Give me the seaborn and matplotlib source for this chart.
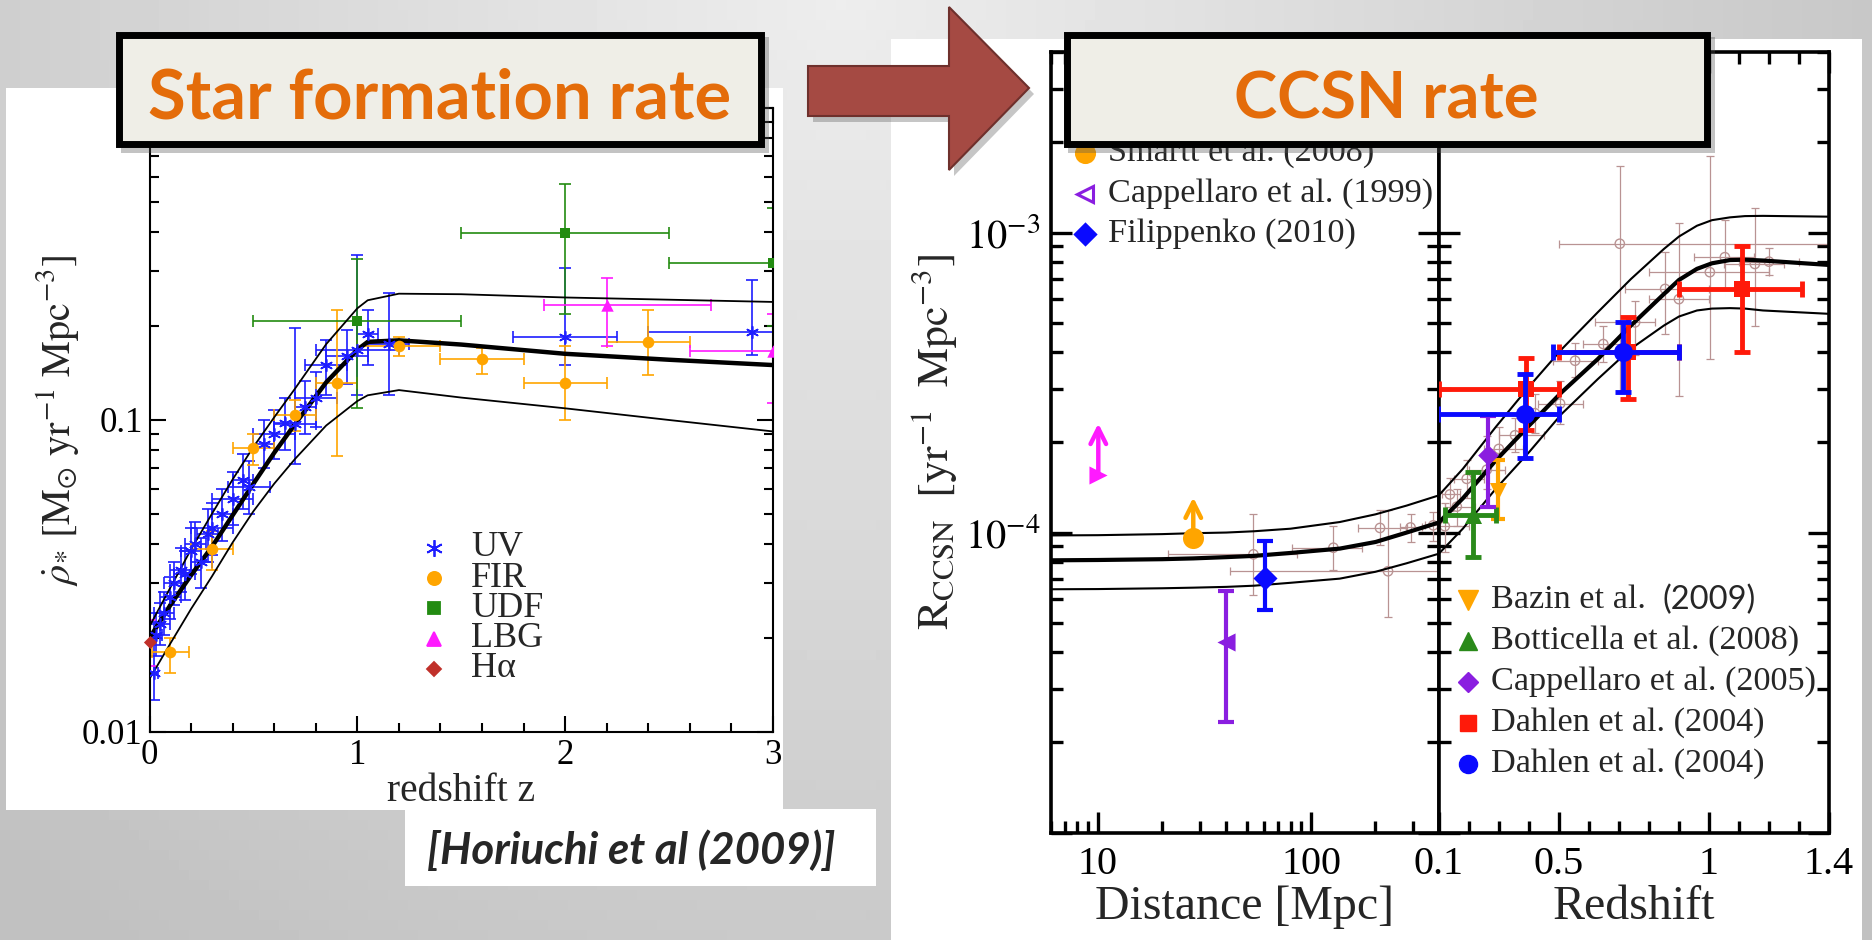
import numpy as np
import pandas as pd
import matplotlib
matplotlib.use("Agg")
import matplotlib.pyplot as plt
import seaborn as sns
from matplotlib.patches import Rectangle, Polygon
from matplotlib.lines import Line2D
from matplotlib.ticker import FixedLocator, FixedFormatter, MultipleLocator, LogLocator, NullFormatter

# ======================= LEFT PANEL : star formation rate =======================
sfr_z   = [0.0, 0.1, 0.2, 0.3, 0.4, 0.5, 0.6, 0.7, 0.85, 1.0, 1.05, 1.2, 1.5, 2.0, 2.5, 3.0]
sfr_mid = [0.0200, 0.0255, 0.0318, 0.0392, 0.0495, 0.0625, 0.0785, 0.0970, 0.1320, 0.1680, 0.1780, 0.1800, 0.1745, 0.1630, 0.1560, 0.1500]
sfr_up  = [0.0218, 0.0290, 0.0385, 0.0500, 0.0645, 0.0820, 0.1020, 0.1260, 0.1750, 0.2280, 0.2420, 0.2540, 0.2530, 0.2470, 0.2430, 0.2390]
sfr_low = [0.0148, 0.0192, 0.0248, 0.0315, 0.0405, 0.0510, 0.0625, 0.0750, 0.0960, 0.1150, 0.1200, 0.1247, 0.1180, 0.1090, 0.1000, 0.0919]

uv_z    = [0.02, 0.03, 0.05, 0.07, 0.10, 0.12, 0.15, 0.17, 0.20, 0.22, 0.25, 0.28, 0.30, 0.35, 0.40, 0.45, 0.48, 0.55, 0.60, 0.65, 0.70, 0.75, 0.80, 0.85, 0.95, 1.00, 1.05, 1.15, 2.00, 2.90]
uv_dzlo = [0.02, 0.03, 0.05, 0.05, 0.05, 0.05, 0.05, 0.05, 0.05, 0.05, 0.05, 0.05, 0.10, 0.05, 0.10, 0.05, 0.10, 0.05, 0.10, 0.05, 0.10, 0.05, 0.10, 0.10, 0.10, 0.20, 0.05, 0.10, 0.25, 0.50]
uv_dzhi = [0.02, 0.03, 0.05, 0.05, 0.05, 0.05, 0.05, 0.05, 0.05, 0.05, 0.05, 0.05, 0.10, 0.05, 0.10, 0.05, 0.10, 0.05, 0.10, 0.05, 0.10, 0.05, 0.10, 0.10, 0.10, 0.20, 0.05, 0.10, 0.25, 0.20]
uv_rho  = [0.0155, 0.0205, 0.0222, 0.0240, 0.0270, 0.0300, 0.0330, 0.0320, 0.0380, 0.0400, 0.0350, 0.0430, 0.0450, 0.0500, 0.0560, 0.0640, 0.0610, 0.0840, 0.0900, 0.0980, 0.0970, 0.1100, 0.1180, 0.1500, 0.1600, 0.1680, 0.1890, 0.1750, 0.1840, 0.1920]
uv_lo   = [0.0127, 0.0175, 0.0190, 0.0205, 0.0230, 0.0255, 0.0280, 0.0265, 0.0320, 0.0330, 0.0290, 0.0350, 0.0370, 0.0410, 0.0460, 0.0520, 0.0500, 0.0700, 0.0750, 0.0800, 0.0725, 0.0900, 0.0950, 0.1200, 0.1300, 0.1200, 0.1500, 0.1200, 0.1500, 0.1620]
uv_hi   = [0.0225, 0.0240, 0.0260, 0.0280, 0.0315, 0.0350, 0.0390, 0.0380, 0.0450, 0.0470, 0.0420, 0.0520, 0.0540, 0.0600, 0.0680, 0.0780, 0.0740, 0.1000, 0.1080, 0.1180, 0.1970, 0.1330, 0.1420, 0.1800, 0.1950, 0.3390, 0.2250, 0.2550, 0.3060, 0.2810]

fir_z   = [0.1, 0.3, 0.5, 0.7, 0.9, 1.2, 1.6, 2.0, 2.4]
fir_dz  = [0.09, 0.1, 0.1, 0.1, 0.1, 0.2, 0.2, 0.2, 0.2]
fir_rho = [0.0181, 0.0385, 0.0816, 0.104, 0.131, 0.173, 0.157, 0.131, 0.178]
fir_lo  = [0.0155, 0.0330, 0.0720, 0.092, 0.0768, 0.160, 0.140, 0.100, 0.139]
fir_hi  = [0.0200, 0.0440, 0.0900, 0.116, 0.225, 0.185, 0.170, 0.173, 0.225]

udf_z   = [1.0, 2.0, 3.0]
udf_dz  = [0.5, 0.5, 0.5]
udf_rho = [0.207, 0.397, 0.318]
udf_lo  = [0.109, 0.218, 0.200]
udf_hi  = [0.327, 0.572, 0.477]

lbg_z    = [2.2, 3.0]
lbg_dzlo = [0.3, 0.4]
lbg_dzhi = [0.5, 0.4]
lbg_rho  = [0.233, 0.166]
lbg_lo   = [0.173, 0.113]
lbg_hi   = [0.286, 0.218]

ha_z   = [0.0]
ha_rho = [0.0194]
ha_lo  = [0.0163]
ha_hi  = [0.0228]

sfr_legend = ["UV", "FIR", "UDF", "LBG", "H\u03b1"]

# ======================= RIGHT PANEL : CCSN rate =======================
d_grid = [6, 10, 20, 28, 40, 54, 80, 136, 200, 280, 396]
d_mid  = [8.08e-5, 8.10e-5, 8.15e-5, 8.20e-5, 8.28e-5, 8.36e-5, 8.55e-5, 8.84e-5, 9.30e-5, 1.00e-4, 1.08e-4]
d_up   = [9.78e-5, 9.80e-5, 9.88e-5, 9.95e-5, 1.00e-4, 1.01e-4, 1.03e-4, 1.084e-4, 1.15e-4, 1.23e-4, 1.33e-4]
d_low  = [6.47e-5, 6.48e-5, 6.52e-5, 6.55e-5, 6.59e-5, 6.65e-5, 6.80e-5, 7.02e-5, 7.40e-5, 7.90e-5, 8.50e-5]

zr_grid = [0.10, 0.18, 0.29, 0.40, 0.51, 0.63, 0.74, 0.85, 0.90, 0.96, 1.01, 1.07, 1.12, 1.18, 1.40]
zr_mid  = [1.08e-4, 1.30e-4, 1.74e-4, 2.27e-4, 2.94e-4, 3.79e-4, 4.90e-4, 6.24e-4, 6.95e-4, 7.57e-4, 7.90e-4, 8.10e-4, 8.12e-4, 8.07e-4, 7.80e-4]
zr_up   = [1.33e-4, 1.63e-4, 2.25e-4, 3.06e-4, 4.09e-4, 5.43e-4, 7.00e-4, 8.82e-4, 9.70e-4, 1.054e-3, 1.10e-3, 1.124e-3, 1.135e-3, 1.137e-3, 1.13e-3]
zr_low  = [8.5e-5, 1.03e-4, 1.40e-4, 1.85e-4, 2.49e-4, 3.25e-4, 4.10e-4, 4.90e-4, 5.25e-4, 5.50e-4, 5.58e-4, 5.60e-4, 5.58e-4, 5.50e-4, 5.36e-4]

# compilation points (light brown) - distance side
cd_d   = [53.6, 127, 210, 292, 373, 229]
cd_dlo = [21.4, 81.5, 165, 260, 340, 41.6]
cd_dhi = [85.5, 172, 280, 330, 400, 500]
cd_r   = [8.46e-5, 8.9e-5, 1.036e-4, 1.04e-4, 1.057e-4, 7.43e-5]
cd_rlo = [6.18e-5, 7.48e-5, 9.07e-5, 9.3e-5, 9.4e-5, 5.23e-5]
cd_rhi = [1.15e-4, 1.05e-4, 1.186e-4, 1.15e-4, 1.17e-4, 1.186e-4]

# compilation points (light brown) - redshift side
cz_z   = [0.12, 0.137, 0.16, 0.193, 0.26, 0.30, 0.354, 0.42, 0.504, 0.554, 0.648, 0.703, 0.754, 0.854, 0.90, 1.003, 1.053, 1.153, 1.20]
cz_zlo = [0.05, 0.11, 0.12, 0.15, 0.20, 0.25, 0.30, 0.36, 0.43, 0.48, 0.58, 0.50, 0.62, 0.72, 0.80, 0.80, 0.95, 1.05, 1.10]
cz_zhi = [0.20, 0.17, 0.22, 0.25, 0.32, 0.38, 0.45, 0.50, 0.58, 0.63, 0.72, 1.40, 0.82, 1.00, 1.00, 1.20, 1.15, 1.25, 1.30]
cz_r   = [1.05e-4, 1.34e-4, 1.22e-4, 1.51e-4, 1.62e-4, 1.90e-4, 2.11e-4, 2.50e-4, 2.69e-4, 3.74e-4, 4.25e-4, 9.18e-4, 5.02e-4, 6.49e-4, 6.00e-4, 7.38e-4, 8.28e-4, 7.86e-4, 8.00e-4]
cz_rlo = [8.6e-5, 1.18e-4, 1.05e-4, 1.30e-4, 1.40e-4, 1.62e-4, 1.85e-4, 2.15e-4, 2.30e-4, 3.30e-4, 3.70e-4, 2.93e-4, 3.90e-4, 4.60e-4, 2.86e-4, 3.79e-4, 6.50e-4, 4.90e-4, 7.20e-4]
cz_rhi = [1.25e-4, 1.52e-4, 1.40e-4, 1.75e-4, 2.10e-4, 2.25e-4, 2.40e-4, 2.90e-4, 3.20e-4, 4.30e-4, 4.90e-4, 1.67e-3, 5.90e-4, 8.60e-4, 1.08e-3, 1.80e-3, 1.10e-3, 1.21e-3, 8.90e-4]

# colored measurements, redshift side
dah_sq_z   = [0.39, 0.73, 1.11]
dah_sq_zlo = [0.10, 0.50, 0.90]
dah_sq_zhi = [0.50, 0.90, 1.31]
dah_sq_r   = [3.0e-4, 4.0e-4, 6.47e-4]
dah_sq_rlo = [2.2e-4, 2.79e-4, 4.01e-4]
dah_sq_rhi = [3.83e-4, 5.22e-4, 9.04e-4]

dah_c_z   = [0.387, 0.713]
dah_c_zlo = [0.097, 0.48]
dah_c_zhi = [0.50, 0.90]
dah_c_r   = [2.49e-4, 4.01e-4]
dah_c_rlo = [1.77e-4, 2.95e-4]
dah_c_rhi = [3.38e-4, 5.02e-4]

bot_z, bot_zlo, bot_zhi = [0.213], [0.122], [0.29]
bot_r, bot_rlo, bot_rhi = [1.148e-4], [8.3e-5], [1.59e-4]

cap05_z = [0.265]
cap05_r, cap05_rlo, cap05_rhi = [1.81e-4], [1.22e-4], [2.44e-4]

baz_z = [0.298]
baz_r, baz_rlo, baz_rhi = [1.38e-4], [1.11e-4], [1.74e-4]

# colored measurements, distance side
mag_d, mag_r, mag_top = [10.05], [1.56e-4], [2.31e-4]
sma_d, sma_r, sma_top = [28.0], [9.6e-5], [1.31e-4]
cap99_d, cap99_r, cap99_rlo, cap99_rhi = [39.9], [4.33e-5], [2.33e-5], [6.37e-5]
fil_d, fil_r, fil_rlo, fil_rhi = [60.7], [7.06e-5], [5.53e-5], [9.37e-5]

leg_top = ["Smartt et al. (2008)", "Cappellaro et al. (1999)", "Filippenko (2010)"]
leg_bot = ["Bazin et al.", "Botticella et al. (2008)", "Cappellaro et al. (2005)", "Dahlen et al. (2004)", "Dahlen et al. (2004)"]

# ======================= style =======================
sns.set_theme(style="ticks")
plt.rcParams["font.family"] = ["Liberation Serif", "DejaVu Serif"]
plt.rcParams["mathtext.fontset"] = "stix"

W, H = 1872, 940
fig = plt.figure(figsize=(W / 100, H / 100), dpi=100)


def fx(x):
    return x / W


def fy(y):
    return 1 - y / H


def frect(x0, y0, x1, y1):
    return [x0 / W, 1 - y1 / H, (x1 - x0) / W, (y1 - y0) / H]


# background gradient
bg = fig.add_axes([0, 0, 1, 1], zorder=-10)
bg.axis("off")
gy, gx = np.mgrid[0:1:94j, 0:1:188j]
rr = np.sqrt(((gx - 0.45) * 1.9) ** 2 + gy ** 2)
bg.imshow(0.93 - 0.14 * np.clip(rr, 0, 1.25), cmap="gray", vmin=0, vmax=1,
          extent=[0, 1, 0, 1], aspect="auto", origin="upper")

# white panels
for (x0, y0, x1, y1) in [(6, 88, 783, 810), (405, 809, 876, 886), (891, 39, 1862, 940)]:
    fig.add_artist(Rectangle((fx(x0), fy(y1)), (x1 - x0) / W, (y1 - y0) / H,
                             transform=fig.transFigure, facecolor="white",
                             edgecolor="none", zorder=-5))


def ebar(ax, x, y, xlo=None, xhi=None, ylo=None, yhi=None, color="k", lw=1.2, cap=4.0, z=2):
    x = np.asarray(x, float)
    y = np.asarray(y, float)
    xerr = None if xlo is None else [x - np.asarray(xlo, float), np.asarray(xhi, float) - x]
    yerr = None if ylo is None else [y - np.asarray(ylo, float), np.asarray(yhi, float) - y]
    ax.errorbar(x, y, xerr=xerr, yerr=yerr, fmt="none", ecolor=color,
                elinewidth=lw, capsize=cap, capthick=lw, zorder=z)


def style_axes(ax, spine_lw, tick_w, maj, mnr, lsize, pad):
    for s in ax.spines.values():
        s.set_color("black")
        s.set_linewidth(spine_lw)
        s.set_visible(True)
    ax.set_facecolor("white")
    ax.tick_params(which="both", direction="in", top=True, right=True,
                   color="black", width=tick_w, labelsize=lsize, pad=pad,
                   labelcolor="black")
    ax.tick_params(which="major", length=maj)
    ax.tick_params(which="minor", length=mnr)


# ---------------- left plot ----------------
ax1 = fig.add_axes(frect(149.5, 108, 773, 732))
ax1.set_yscale("log")
ax1.set_xlim(0, 3)
ax1.set_ylim(0.01, 1.0)

C_UV, C_FIR, C_UDF, C_LBG, C_HA = "#1e1eff", "#ffa500", "#228b11", "#ff1aff", "#c0302a"

uz = np.asarray(uv_z)
ebar(ax1, uv_z, uv_rho, uz - np.asarray(uv_dzlo), uz + np.asarray(uv_dzhi), uv_lo, uv_hi, color=C_UV)
fz = np.asarray(fir_z)
ebar(ax1, fir_z, fir_rho, fz - np.asarray(fir_dz), fz + np.asarray(fir_dz), fir_lo, fir_hi, color=C_FIR)
dz = np.asarray(udf_z)
ebar(ax1, udf_z, udf_rho, dz - np.asarray(udf_dz), dz + np.asarray(udf_dz), udf_lo, udf_hi, color=C_UDF)
lz = np.asarray(lbg_z)
ebar(ax1, lbg_z, lbg_rho, lz - np.asarray(lbg_dzlo), lz + np.asarray(lbg_dzhi), lbg_lo, lbg_hi, color=C_LBG)
ebar(ax1, ha_z, ha_rho, None, None, ha_lo, ha_hi, color=C_LBG)

sns.lineplot(x=sfr_z, y=sfr_up, ax=ax1, color="black", lw=1.3, zorder=3, legend=False)
sns.lineplot(x=sfr_z, y=sfr_low, ax=ax1, color="black", lw=1.3, zorder=3, legend=False)
sns.lineplot(x=sfr_z, y=sfr_mid, ax=ax1, color="black", lw=3.2, zorder=3, legend=False)

sns.scatterplot(x=uv_z, y=uv_rho, ax=ax1, marker=(6, 2, 0), s=70, color=C_UV,
                edgecolor=C_UV, linewidth=1.2, zorder=4, legend=False)
sns.scatterplot(x=fir_z, y=fir_rho, ax=ax1, marker="o", s=70, color=C_FIR, linewidth=0, zorder=4, legend=False)
sns.scatterplot(x=udf_z, y=udf_rho, ax=ax1, marker="s", s=60, color=C_UDF, linewidth=0, zorder=4, legend=False)
sns.scatterplot(x=lbg_z, y=lbg_rho, ax=ax1, marker="^", s=80, color=C_LBG, linewidth=0, zorder=4, legend=False)
sns.scatterplot(x=ha_z, y=ha_rho, ax=ax1, marker="D", s=45, color=C_HA, linewidth=0, zorder=4,
                legend=False, clip_on=False)

style_axes(ax1, 1.5, 1.5, 11.5, 6.5, 25, 5)
ax1.xaxis.set_major_locator(FixedLocator([0, 1, 2, 3]))
ax1.xaxis.set_major_formatter(FixedFormatter(["0", "1", "2", "3"]))
ax1.xaxis.set_minor_locator(MultipleLocator(0.2))
ax1.yaxis.set_major_locator(FixedLocator([0.01, 0.1, 1.0]))
ax1.yaxis.set_major_formatter(FixedFormatter(["0.01", "0.1", ""]))
ax1.yaxis.set_minor_locator(LogLocator(base=10, subs=np.arange(2, 10)))
ax1.yaxis.set_minor_formatter(NullFormatter())
ax1.set_xlabel("redshift z", fontsize=28.5)
ax1.xaxis.label.set_verticalalignment("center")
ax1.xaxis.set_label_coords(0.5, -0.095)
ax1.set_ylabel(r"$\dot{\rho}_{*}\ [\mathrm{M}_{\odot}\ \mathrm{yr}^{-1}\ \mathrm{Mpc}^{-3}]$", fontsize=29)
ax1.yaxis.label.set_verticalalignment("center")
ax1.yaxis.set_label_coords(-0.148, 0.5)

# left legend (manual)
leg1_mk = [((6, 2, 0), C_UV, C_UV, 12), ("o", C_FIR, C_FIR, 9.5), ("s", C_UDF, C_UDF, 8.5),
           ("^", C_LBG, C_LBG, 10.5), ("D", C_HA, C_HA, 7.5)]
for i, (lab, (mk, fc, ec, ms)) in enumerate(zip(sfr_legend, leg1_mk)):
    yy = 548 + i * 30.2
    fig.add_artist(Line2D([fx(434)], [fy(yy)], marker=mk, markersize=ms, markerfacecolor=fc,
                          markeredgecolor=ec, markeredgewidth=1.3, linestyle="none",
                          transform=fig.transFigure, zorder=6))
    fig.text(fx(471), fy(yy), lab, fontsize=26, ha="left", va="center", zorder=6)

# ---------------- right plots ----------------
ax2 = fig.add_axes(frect(1050.5, 52, 1438.8, 832.5))
ax3 = fig.add_axes(frect(1438.8, 52, 1829, 832.5))
for ax in (ax2, ax3):
    ax.set_yscale("log")
    ax.set_ylim(1.0e-5, 4.0e-3)
ax2.set_xscale("log")
ax2.set_xlim(6, 396)
ax3.set_xlim(0.1, 1.4)

C_BR = "#b99393"
C_OR, C_GR, C_PU, C_RD, C_BL, C_MG = "#ffa500", "#2a8a1a", "#8a1ee0", "#ff1a0a", "#0a0aff", "#ff1aff"

# compilation (brown)
ebar(ax2, cd_d, cd_r, cd_dlo, cd_dhi, cd_rlo, cd_rhi, color=C_BR, lw=0.9, cap=3, z=2)
sns.scatterplot(x=cd_d, y=cd_r, ax=ax2, marker="o", s=45, facecolor="none", edgecolor=C_BR,
                linewidth=1.0, zorder=2, legend=False)
ebar(ax3, cz_z, cz_r, cz_zlo, cz_zhi, cz_rlo, cz_rhi, color=C_BR, lw=0.9, cap=3, z=2)
sns.scatterplot(x=cz_z, y=cz_r, ax=ax3, marker="o", s=45, facecolor="none", edgecolor=C_BR,
                linewidth=1.0, zorder=2, legend=False)

# curves
for ax, xx, lo, mid, up in [(ax2, d_grid, d_low, d_mid, d_up), (ax3, zr_grid, zr_low, zr_mid, zr_up)]:
    sns.lineplot(x=xx, y=up, ax=ax, color="black", lw=1.5, zorder=3, legend=False)
    sns.lineplot(x=xx, y=lo, ax=ax, color="black", lw=1.5, zorder=3, legend=False)
    sns.lineplot(x=xx, y=mid, ax=ax, color="black", lw=3.0, zorder=3, legend=False)

# colored, distance side
ebar(ax2, cap99_d, cap99_r, None, None, cap99_rlo, cap99_rhi, color=C_PU, lw=3, cap=6, z=4)
sns.scatterplot(x=cap99_d, y=cap99_r, ax=ax2, marker="<", s=170, color=C_PU, linewidth=0, zorder=5, legend=False)
ebar(ax2, fil_d, fil_r, None, None, fil_rlo, fil_rhi, color=C_BL, lw=3, cap=6, z=4)
sns.scatterplot(x=fil_d, y=fil_r, ax=ax2, marker="D", s=150, color=C_BL, linewidth=0, zorder=5, legend=False)
for xs, ys, yt, col, mk, sz in [(sma_d, sma_r, sma_top, C_OR, "o", 230), (mag_d, mag_r, mag_top, C_MG, ">", 170)]:
    ax2.annotate("", xy=(xs[0], yt[0]), xytext=(xs[0], ys[0]),
                 arrowprops=dict(arrowstyle="->", color=col, lw=3.2, mutation_scale=28,
                                 shrinkA=0, shrinkB=0), zorder=4)
    sns.scatterplot(x=xs, y=ys, ax=ax2, marker=mk, s=sz, color=col, linewidth=0, zorder=5, legend=False)

# colored, redshift side
ebar(ax3, baz_z, baz_r, None, None, baz_rlo, baz_rhi, color=C_OR, lw=3, cap=5, z=4)
sns.scatterplot(x=baz_z, y=baz_r, ax=ax3, marker="v", s=150, color=C_OR, linewidth=0, zorder=5, legend=False)
ebar(ax3, bot_z, bot_r, bot_zlo, bot_zhi, bot_rlo, bot_rhi, color=C_GR, lw=3.5, cap=6, z=4)
sns.scatterplot(x=bot_z, y=bot_r, ax=ax3, marker="^", s=150, color=C_GR, linewidth=0, zorder=5, legend=False)
ebar(ax3, cap05_z, cap05_r, None, None, cap05_rlo, cap05_rhi, color=C_PU, lw=3, cap=6, z=4)
sns.scatterplot(x=cap05_z, y=cap05_r, ax=ax3, marker="D", s=110, color=C_PU, linewidth=0, zorder=5, legend=False)
ebar(ax3, dah_sq_z, dah_sq_r, dah_sq_zlo, dah_sq_zhi, dah_sq_rlo, dah_sq_rhi, color=C_RD, lw=3.5, cap=6, z=4)
sns.scatterplot(x=dah_sq_z, y=dah_sq_r, ax=ax3, marker="s", s=130, color=C_RD, linewidth=0, zorder=5, legend=False)
ebar(ax3, dah_c_z, dah_c_r, dah_c_zlo, dah_c_zhi, dah_c_rlo, dah_c_rhi, color=C_BL, lw=3.5, cap=6, z=5)
sns.scatterplot(x=dah_c_z, y=dah_c_r, ax=ax3, marker="o", s=190, color=C_BL, linewidth=0, zorder=6, legend=False)

for ax in (ax2, ax3):
    style_axes(ax, 2.6, 2.4, 15, 8.5, 29, 7)
    ax.yaxis.set_major_locator(FixedLocator([1e-5, 1e-4, 1e-3]))
    ax.yaxis.set_major_formatter(FixedFormatter(["", r"$10^{-4}$", r"$10^{-3}$"]))
    ax.yaxis.set_minor_locator(LogLocator(base=10, subs=np.arange(2, 10)))
    ax.yaxis.set_minor_formatter(NullFormatter())
ax3.tick_params(labelleft=False)
ax2.tick_params(axis="x", pad=10)
ax3.tick_params(axis="x", pad=10)
ax2.xaxis.set_major_locator(FixedLocator([10, 100]))
ax2.xaxis.set_major_formatter(FixedFormatter(["10", "100"]))
ax2.xaxis.set_minor_locator(LogLocator(base=10, subs=np.arange(2, 10)))
ax2.xaxis.set_minor_formatter(NullFormatter())
ax3.xaxis.set_major_locator(FixedLocator([0.1, 0.5, 1.0, 1.4]))
ax3.xaxis.set_major_formatter(FixedFormatter(["0.1", "0.5", "1", "1.4"]))
ax3.xaxis.set_minor_locator(MultipleLocator(0.1))

ax2.set_xlabel("Distance [Mpc]", fontsize=34.5)
ax3.set_xlabel("Redshift", fontsize=34.5)
for ax in (ax2, ax3):
    ax.xaxis.label.set_verticalalignment("center")
    ax.xaxis.set_label_coords(0.5, -0.095)
ax2.set_ylabel(r"$\mathrm{R}_{\mathrm{CCSN}}\ \ [\mathrm{yr}^{-1}\ \ \mathrm{Mpc}^{-3}]$", fontsize=31.5)
ax2.yaxis.label.set_verticalalignment("center")
ax2.yaxis.set_label_coords(-0.30, 0.5)

# right legends (manual)
top_mk = [("o", C_OR, C_OR, 13), ("<", "none", C_PU, 11), ("D", C_BL, C_BL, 10)]
for i, (lab, (mk, fc, ec, ms)) in enumerate(zip(leg_top, top_mk)):
    yy = 153 + i * 40.5
    fig.add_artist(Line2D([fx(1085)], [fy(yy)], marker=mk, markersize=ms, markerfacecolor=fc,
                          markeredgecolor=ec, markeredgewidth=2.2, linestyle="none",
                          transform=fig.transFigure, zorder=6))
    fig.text(fx(1108), fy(yy), lab, fontsize=24.7, ha="left", va="center", zorder=6)

bot_mk = [("v", C_OR, 15), ("^", C_GR, 13), ("D", C_PU, 10), ("s", C_RD, 11), ("o", C_BL, 13)]
for i, (lab, (mk, col, ms)) in enumerate(zip(leg_bot, bot_mk)):
    yy = 600 + i * 41
    fig.add_artist(Line2D([fx(1468)], [fy(yy)], marker=mk, markersize=ms, markerfacecolor=col,
                          markeredgecolor=col, linestyle="none",
                          transform=fig.transFigure, zorder=6))
    fig.text(fx(1491), fy(yy), lab, fontsize=24.7, ha="left", va="center", zorder=6)
fig.text(fx(1662), fy(600), "(2009)", fontsize=23.5, ha="left", va="center",
         family=["Lato", "DejaVu Sans"], zorder=6)

# ---------------- slide decorations ----------------
ORANGE = "#e46c0a"
for (x0, y0, x1, y1) in [(116, 31, 764, 147), (1063, 31, 1710, 147)]:
    fig.add_artist(Rectangle((fx(x0 + 5), fy(y1 + 6)), (x1 - x0) / W, (y1 - y0) / H,
                             transform=fig.transFigure, facecolor="#555555", alpha=0.35,
                             edgecolor="none", zorder=29))
    fig.add_artist(Rectangle((fx(x0 + 3.5), fy(y1 - 3.5)), (x1 - x0 - 7) / W, (y1 - y0 - 7) / H,
                             transform=fig.transFigure, facecolor="#efeee7",
                             edgecolor="black", linewidth=5, zorder=30))
fig.text(fx(440), fy(119), "Star formation rate", ha="center", va="baseline", fontsize=49.5,
         fontweight="bold", color=ORANGE, family=["Lato", "DejaVu Sans"], zorder=31)
fig.text(fx(1386), fy(119), "CCSN rate", ha="center", va="baseline", fontsize=47,
         fontweight="bold", color=ORANGE, family=["Lato", "DejaVu Sans"], zorder=31)

arrow_px = [(808, 66), (949, 66), (949, 7), (1029, 88), (949, 170), (949, 116), (808, 116)]
fig.add_artist(Polygon([(fx(x + 5), fy(y + 6)) for x, y in arrow_px], closed=True,
                       transform=fig.transFigure, facecolor="#444444", alpha=0.3,
                       edgecolor="none", zorder=24))
fig.add_artist(Polygon([(fx(x), fy(y)) for x, y in arrow_px], closed=True,
                       transform=fig.transFigure, facecolor="#a54a43", edgecolor="#6e302c",
                       linewidth=1.5, zorder=25))

fig.text(fx(631), fy(850), "[Horiuchi et al (2009)]", ha="center", va="center", fontsize=31.5,
         fontweight="bold", fontstyle="italic", family=["Lato", "DejaVu Sans"], zorder=6)

fig.savefig("out.png", dpi=100)
